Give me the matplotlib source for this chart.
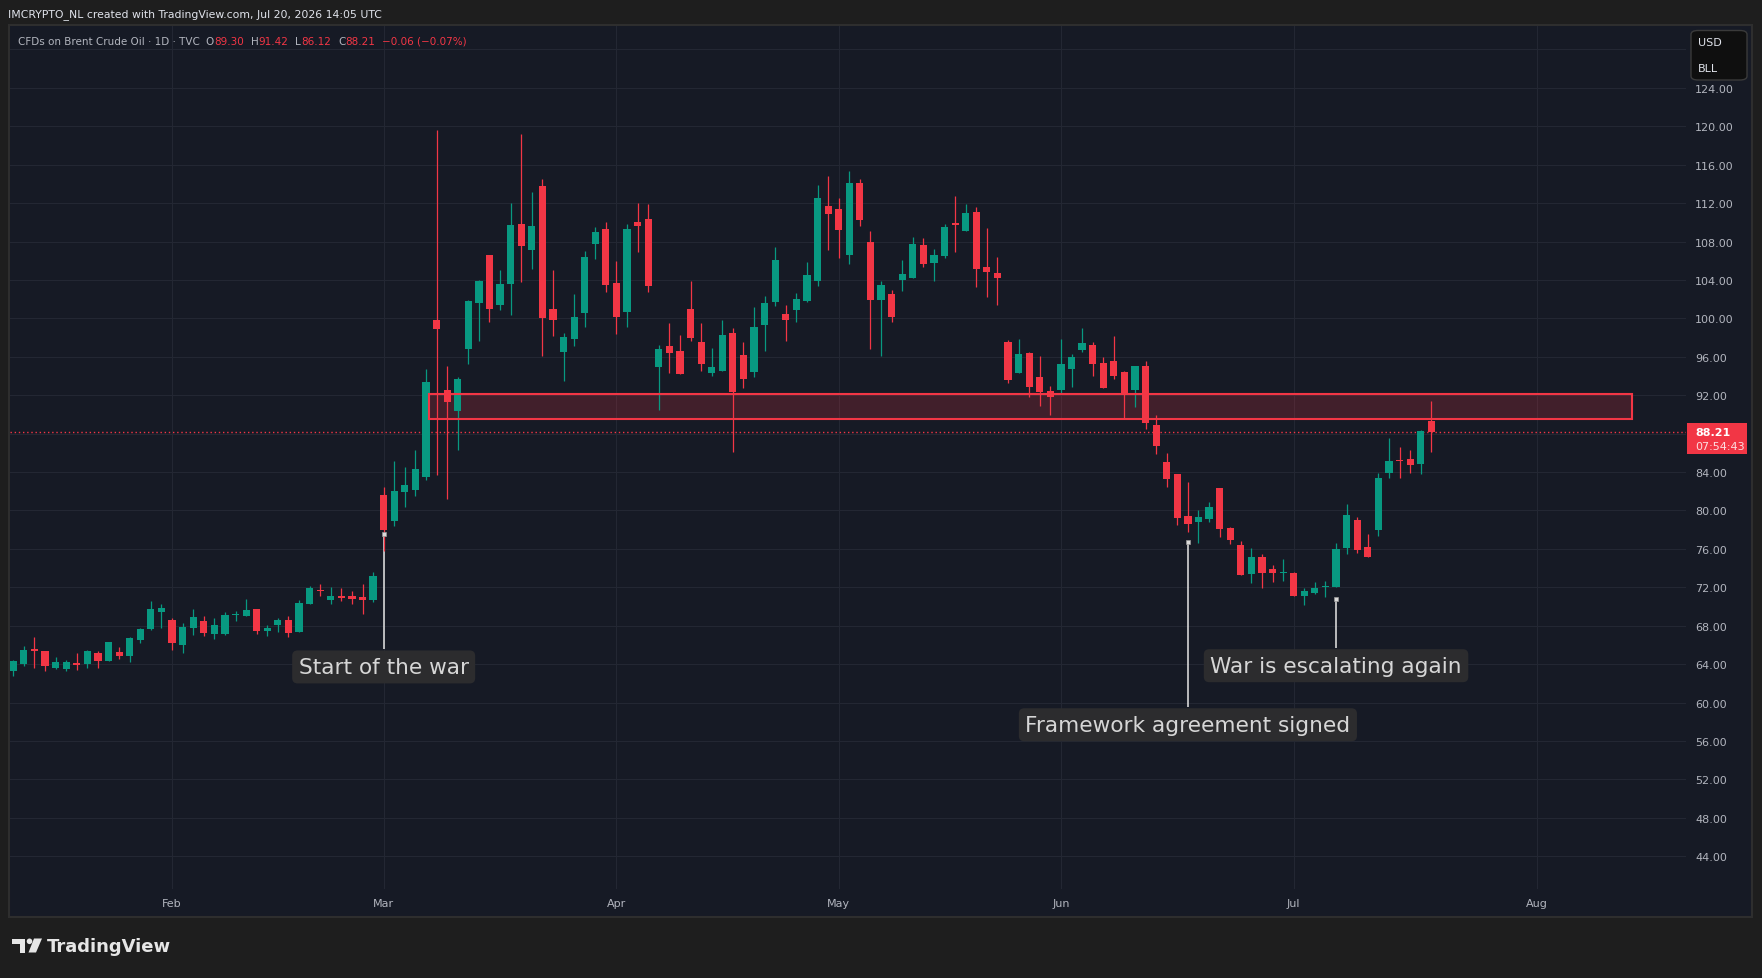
import matplotlib
matplotlib.use("Agg")
import matplotlib.pyplot as plt
from matplotlib.patches import Rectangle, FancyBboxPatch, Ellipse, Polygon
from matplotlib.transforms import blended_transform_factory
import numpy as np

# ---------------- data ----------------
opens = [63.33, 64.02, 65.54, 65.37, 63.60, 63.50, 64.12, 64.02, 65.16, 64.33,
         65.27, 64.85, 66.52, 67.66, 69.43, 68.60, 66.00, 67.77, 68.50, 67.14,
         67.14, 69.10, 69.02, 69.75, 67.45, 68.08, 68.60, 67.35, 70.27, 71.76,
         70.68, 71.10, 71.10, 71.00, 70.72, 81.62, 78.95, 81.97, 82.17, 83.53,
         99.84, 92.55, 90.40, 96.85, 101.64, 106.60, 101.43, 103.62, 109.83, 107.16,
         113.79, 100.98, 96.54, 97.89, 100.60, 107.78, 109.31, 103.69, 100.70, 110.04,
         110.35, 94.98, 97.13, 96.61, 100.98, 97.55, 94.35, 94.56, 98.48, 96.19,
         94.46, 99.35, 101.74, 100.46, 100.91, 101.85, 103.90, 111.70, 111.39, 106.60,
         114.10, 107.96, 101.92, 102.54, 104.00, 104.21, 107.64, 105.77, 106.50, 109.85,
         109.10, 111.08, 105.35, 104.73, 97.55, 94.32, 96.40, 93.90, 92.45, 92.55,
         94.74, 96.71, 97.23, 95.36, 95.57, 94.42, 92.55, 95.05, 88.91, 85.05,
         83.80, 79.43, 78.81, 79.12, 82.35, 78.18, 76.41, 73.39, 75.16, 73.91,
         73.45, 73.50, 71.10, 71.42, 72.00, 72.04, 76.10, 79.02, 76.21, 77.97,
         83.91, 85.20, 85.37, 84.85, 89.30]
highs = [64.40, 65.89, 66.83, 65.40, 64.75, 64.44, 65.16, 65.48, 65.37, 66.31,
         65.79, 66.83, 67.77, 70.58, 70.27, 68.81, 68.29, 69.75, 69.02, 68.81,
         69.43, 69.54, 70.79, 69.75, 68.08, 68.81, 69.02, 70.68, 72.14, 72.35,
         72.03, 71.93, 71.62, 72.35, 73.60, 82.45, 85.16, 84.53, 86.30, 94.73,
         119.61, 95.05, 93.90, 101.92, 104.00, 106.60, 105.04, 112.02, 119.20, 113.16,
         114.51, 105.04, 98.48, 102.54, 107.02, 109.52, 110.04, 105.98, 109.79, 112.02,
         111.91, 97.20, 99.52, 98.27, 103.90, 99.52, 96.92, 99.84, 99.00, 97.55,
         101.19, 102.33, 107.44, 101.40, 102.68, 105.87, 113.89, 114.83, 112.54, 115.35,
         114.52, 109.10, 103.90, 102.96, 106.08, 108.48, 108.37, 107.23, 109.83, 112.74,
         111.91, 111.60, 109.41, 106.39, 97.76, 97.86, 96.51, 96.09, 92.97, 97.86,
         96.30, 99.00, 97.55, 95.99, 98.17, 94.53, 95.05, 95.57, 89.95, 85.99,
         83.80, 82.97, 80.06, 80.89, 82.35, 78.29, 76.83, 76.10, 75.48, 74.33,
         74.96, 73.60, 71.93, 72.56, 72.67, 76.62, 80.68, 79.33, 77.56, 83.91,
         87.55, 86.62, 86.30, 88.38, 91.42]
lows = [62.80, 63.85, 63.57, 63.33, 63.53, 63.33, 63.43, 63.60, 63.60, 64.33,
        64.54, 64.26, 66.20, 67.56, 67.77, 65.48, 65.16, 67.04, 66.93, 66.62,
        67.04, 68.50, 69.02, 67.14, 66.93, 67.35, 66.83, 67.35, 70.27, 71.10,
        70.27, 70.58, 70.27, 69.23, 70.51, 75.82, 78.43, 80.37, 81.55, 83.21,
        83.74, 81.24, 86.34, 95.29, 97.68, 99.66, 100.91, 100.39, 103.83, 105.18,
        96.12, 98.20, 93.52, 97.16, 99.14, 106.22, 102.79, 98.41, 99.14, 106.95,
        102.79, 90.50, 94.35, 94.25, 97.68, 94.56, 94.04, 94.56, 86.13, 92.79,
        93.94, 96.64, 101.33, 97.68, 99.66, 101.74, 103.37, 107.12, 106.29, 105.67,
        109.62, 96.82, 96.09, 99.63, 102.86, 104.21, 105.35, 103.90, 106.29, 106.91,
        109.10, 103.27, 102.23, 101.40, 93.28, 94.32, 91.82, 90.88, 89.95, 92.24,
        92.86, 96.51, 94.00, 92.76, 93.69, 89.63, 90.78, 88.49, 85.89, 82.45,
        78.50, 77.77, 76.62, 78.81, 77.25, 76.52, 73.29, 72.46, 71.94, 72.56,
        72.67, 71.10, 70.17, 71.31, 71.00, 72.04, 75.48, 75.58, 75.16, 77.35,
        83.39, 83.39, 83.91, 83.80, 86.12]
closes = [64.33, 65.48, 65.40, 63.81, 64.23, 64.23, 63.92, 65.37, 64.33, 66.31,
          64.85, 66.73, 67.66, 69.75, 69.85, 66.21, 67.87, 68.91, 67.25, 68.08,
          69.12, 69.15, 69.64, 67.45, 67.77, 68.60, 67.25, 70.37, 71.93, 71.62,
          71.10, 70.89, 70.79, 70.68, 73.18, 78.01, 82.03, 82.66, 84.32, 93.38,
          98.93, 91.33, 93.69, 101.81, 103.90, 101.02, 103.58, 109.73, 107.57, 109.62,
          100.08, 99.87, 98.07, 100.15, 106.39, 109.00, 103.51, 100.18, 109.31, 109.66,
          103.41, 96.82, 96.44, 94.25, 98.00, 95.29, 94.94, 98.27, 92.38, 93.73,
          99.11, 101.61, 106.08, 99.87, 102.02, 104.52, 112.54, 110.87, 109.20, 114.10,
          110.25, 101.92, 103.48, 100.15, 104.62, 107.75, 105.67, 106.60, 109.52, 109.75,
          110.97, 105.14, 104.83, 104.21, 93.59, 96.30, 92.86, 92.34, 91.82, 95.26,
          95.99, 97.44, 95.26, 92.76, 94.00, 92.13, 95.05, 89.11, 86.72, 83.28,
          79.22, 78.60, 79.33, 80.37, 78.08, 76.93, 73.29, 75.16, 73.50, 73.50,
          73.50, 71.10, 71.62, 71.94, 72.05, 76.00, 79.54, 75.89, 75.16, 83.39,
          85.16, 85.10, 84.74, 88.27, 88.21]

month_positions = [15, 35, 57, 78, 99, 121, 144]
month_labels = ["Feb", "Mar", "Apr", "May", "Jun", "Jul", "Aug"]
price_ticks = list(range(44, 129, 4))

zone_low, zone_high = 89.53, 92.13
zone_start, zone_end = 39.3, 153.0

change_abs = -0.06
change_pct = -0.07
countdown = "07:54:43"

annot_texts = ["Start of the war", "Framework agreement signed", "War is escalating again"]
annot_bar = [35, 111, 125]
annot_anchor_price = [77.56, 76.73, 70.79]
annot_label_price = [63.71, 57.69, 63.84]

# ---------------- style ----------------
W, H, DPI = 1762, 979, 100
OUTER = "#1e1e1e"
PANE = "#161a25"
GRID = "#232733"
TXT = "#b2b5be"
UP = "#089981"
DOWN = "#f23645"

XMIN, XMAX = -0.312, 158.07
YMIN, YMAX = 40.59, 130.44

fig = plt.figure(figsize=(W / DPI, H / DPI), dpi=DPI, facecolor=OUTER)


def F(x, y):
    return (x / W, 1 - y / H)


# pane background with border
fig.patches.append(Rectangle(F(9, 918), 1743 / W, 892 / H, transform=fig.transFigure,
                             facecolor=PANE, edgecolor="#2e2e2e", lw=1.5, zorder=-5))

ax_l, ax_t, ax_r, ax_b = 10, 27, 1686, 890
ax = fig.add_axes([ax_l / W, 1 - ax_b / H, (ax_r - ax_l) / W, (ax_b - ax_t) / H])
ax.set_zorder(1)
ax.set_facecolor(PANE)
ax.set_xlim(XMIN, XMAX)
ax.set_ylim(YMIN, YMAX)
for s in ax.spines.values():
    s.set_visible(False)

ax.set_yticks(price_ticks)
ax.set_yticklabels([f"{v:.2f}" for v in price_ticks])
ax.yaxis.tick_right()
ax.tick_params(axis="y", length=0, pad=6.5, labelsize=8, labelcolor=TXT)
ax.set_xticks(month_positions)
ax.set_xticklabels(month_labels)
ax.tick_params(axis="x", length=0, pad=6.5, labelsize=8, labelcolor=TXT)
ax.grid(True, color=GRID, lw=0.8, zorder=0)
ax.set_axisbelow(True)

ppu = (ax_b - ax_t) / (YMAX - YMIN)  # pixels per price unit

# zone
ax.add_patch(Rectangle((zone_start, zone_low), zone_end - zone_start, zone_high - zone_low,
                       facecolor=DOWN, alpha=0.2, edgecolor="none", zorder=1))
ax.add_patch(Rectangle((zone_start, zone_low), zone_end - zone_start, zone_high - zone_low,
                       facecolor="none", edgecolor=DOWN, lw=1.5, zorder=4))

# candles
o = np.array(opens); h = np.array(highs); l = np.array(lows); c = np.array(closes)
x = np.arange(len(o))
up = c >= o
cols = np.where(up, UP, DOWN)
body_low = np.minimum(o, c)
body_h = np.maximum(np.abs(c - o), 1.3 / ppu)
ax.vlines(x, l, h, colors=cols, lw=0.9, zorder=3)
ax.bar(x, body_h, bottom=body_low, width=0.68, color=cols, linewidth=0, zorder=3.5)

# last price line
last = closes[-1]
ax.axhline(last, color=DOWN, lw=1.0, ls=(0, (1, 2)), zorder=2)

# annotations
for txt, bi, pa, pl in zip(annot_texts, annot_bar, annot_anchor_price, annot_label_price):
    top = pl + 18 / ppu
    ax.plot([bi, bi], [pa, top], color="#e6e6e6", lw=1.1, zorder=2.8, solid_capstyle="butt")
    ax.plot([bi], [pa], marker="s", ms=3.2, color="#d9d9d9", mec="#9a9a9a", mew=0.5, zorder=5)
    ax.text(bi, pl, txt, ha="center", va="center", fontsize=15.6, color="#d6d6d6", zorder=6,
            bbox=dict(boxstyle="round,pad=0.3,rounding_size=0.25", fc="#2c2c2e", ec="none"))

# price tag on axis
bt = blended_transform_factory(ax.transAxes, ax.transData)
ax_x = lambda px: (px - ax_l) / (ax_r - ax_l)
ax.add_patch(Rectangle((ax_x(1687), last - 22.3 / ppu), ax_x(1747) - ax_x(1687), 31 / ppu,
                       transform=bt, facecolor=DOWN, edgecolor="none", clip_on=False, zorder=7))
ax.text(ax_x(1695), last, f"{last:.2f}", transform=bt, ha="left", va="center",
        fontsize=8, fontweight="bold", color="white", clip_on=False, zorder=8)
ax.text(ax_x(1695), last - 14.5 / ppu, countdown, transform=bt, ha="left", va="center",
        fontsize=8, color="#fcdde0", clip_on=False, zorder=8)

# currency / unit box
fig.patches.append(FancyBboxPatch(F(1691, 81), 56 / W, 49.5 / H, transform=fig.transFigure,
                                  boxstyle="round,pad=0,rounding_size=0.004",
                                  facecolor="#0f0f0f", edgecolor="#3a3a3a", lw=1.0, zorder=5))
fig.text(*F(1698, 43.5), "USD", fontsize=8, color="#e0e3eb", va="center", ha="left", zorder=6)
fig.text(*F(1698, 69.5), "BLL", fontsize=8, color="#e0e3eb", va="center", ha="left", zorder=6)

# header
fig.text(*F(8, 14.6), "IMCRYPTO_NL created with TradingView.com, Jul 20, 2026 14:05 UTC",
         fontsize=7.8, color="#e0e3eb", va="center", ha="left")

fig.canvas.draw()
renderer = fig.canvas.get_renderer()
pieces = [("CFDs on Brent Crude Oil \u00b7 1D \u00b7 TVC", TXT, 6),
          ("O", TXT, 0), (f"{opens[-1]:.2f}", DOWN, 7),
          ("H", TXT, 0), (f"{highs[-1]:.2f}", DOWN, 7),
          ("L", TXT, 0), (f"{lows[-1]:.2f}", DOWN, 7),
          ("C", TXT, 0), (f"{closes[-1]:.2f}", DOWN, 7),
          (f"\u2212{abs(change_abs):.2f} (\u2212{abs(change_pct):.2f}%)", DOWN, 0)]
xp = 18
for t, col, gap in pieces:
    tt = fig.text(*F(xp, 41.6), t, fontsize=7.5, color=col, va="center", ha="left", zorder=6)
    bb = tt.get_window_extent(renderer)
    xp += bb.width + gap

# TradingView logo
logo_c = "#e6e6e6"
fig.patches.append(Rectangle(F(12, 945), 13 / W, 5.5 / H, transform=fig.transFigure,
                             facecolor=logo_c, edgecolor="none"))
fig.patches.append(Rectangle(F(19.5, 953.5), 5.5 / W, 14 / H, transform=fig.transFigure,
                             facecolor=logo_c, edgecolor="none"))
fig.patches.append(Ellipse(F(29.5, 942.3), 5.6 / W, 5.6 / H, transform=fig.transFigure,
                           facecolor=logo_c, edgecolor="none"))
fig.patches.append(Polygon([F(34, 939.5), F(42, 939.5), F(36, 953.5), F(28.5, 953.5)],
                           closed=True, transform=fig.transFigure, facecolor=logo_c, edgecolor="none"))
fig.text(*F(47, 947), "TradingView", fontsize=13, fontweight="bold", color=logo_c,
         va="center", ha="left")

fig.savefig("out.png", dpi=DPI, facecolor=OUTER)
